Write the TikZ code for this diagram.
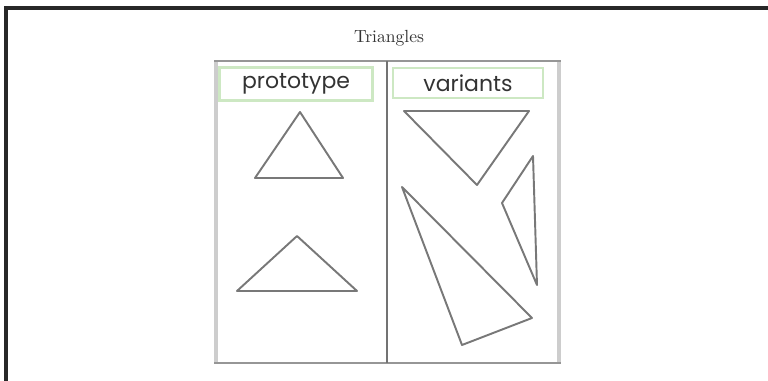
\documentclass[tikz,border=0pt]{standalone}
\usepackage{fontspec}
\newfontfamily\labelfont{Poppins}
\usepackage{xcolor}
\usepackage{tikz}
\usetikzlibrary{positioning,calc}
\definecolor{frameblk}{RGB}{40,40,40}
\definecolor{panelgray}{RGB}{150,150,150}
\definecolor{sidegray}{RGB}{205,205,205}
\definecolor{divgray}{RGB}{115,115,115}
\definecolor{trigray}{RGB}{120,120,120}
\definecolor{softgreen}{RGB}{205,232,195}
\tikzset{
    tag/.style={rectangle,draw=softgreen,line width=1.2pt,fill=white,inner sep=0pt,font=\labelfont\fontsize{12.5}{13}\selectfont,text=black!80},
    tri/.style={draw=trigray,line width=1.1pt,line join=round},
    panel/.style={draw=panelgray,line width=1.6pt},
}

\begin{document}
\begin{tikzpicture}[x=0.02cm,y=-0.02cm]
\useasboundingbox (0,0) rectangle (768,381);
% page frame
\draw[frameblk,line width=1.8pt] (6,381) -- (6,8) -- (768,8);
% title
\node[font=\fontsize{10}{10}\selectfont,text=black!80] (title) at (389,38) {Triangles};
% panels
\draw[panel] (215,61) rectangle (560,363);
\draw[sidegray,line width=2.6pt] (216,62) -- (216,362);
\draw[sidegray,line width=2.6pt] (559,62) -- (559,362);
\draw[divgray,line width=1.2pt] (387,61) -- (387,363);
% labels
\node[tag,minimum width=3.06cm,minimum height=0.66cm] (proto) at (296,84) {prototype};
\node[tag,minimum width=3.0cm,minimum height=0.6cm] (var) at (468,83) {variants};
% prototype triangles
\draw[tri] (300,112) -- (255,178) -- (343,178) -- cycle;
\draw[tri] (297,236) -- (237,291) -- (357,291) -- cycle;
% variant triangles
\draw[tri] (404,111) -- (529,111) -- (477,185) -- cycle;
\draw[tri] (533,156) -- (502,203) -- (537,285) -- cycle;
\draw[tri] (402,187) -- (532,318) -- (462,345) -- cycle;
\end{tikzpicture}
\end{document}
